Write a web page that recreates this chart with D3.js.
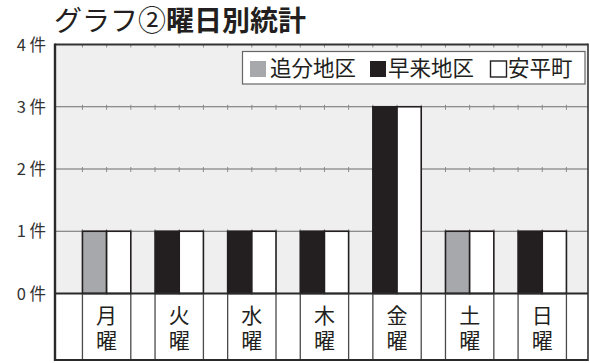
<!DOCTYPE html>
<html>
<head>
<meta charset="utf-8">
<script src="https://cdn.jsdelivr.net/npm/d3@7"></script>
<style>
  html, body { margin: 0; padding: 0; background: #fff; }
  svg { display: block; font-family: "Noto Sans CJK JP", "Noto Sans", sans-serif; }
</style>
</head>
<body>
<svg id="chart" width="590" height="363"></svg>
<script>
// 曜日別の件数
const days = ["月", "火", "水", "木", "金", "土", "日"];
const seriesNames = ["追分地区", "早来地区", "安平町"];
const oiwake = [1, 0, 0, 0, 0, 1, 0];
const hayakita = [0, 1, 1, 1, 3, 0, 1];
const abira = [1, 1, 1, 1, 3, 1, 1];
const yTicks = [0, 1, 2, 3, 4];
const yUnit = "件";

const ink = "#231f20";
const fills = { "追分地区": "#a7a8ab", "早来地区": "#231f20", "安平町": "#ffffff" };

const svg = d3.select("#chart");
const plotL = 55, plotR = 588, plotT = 44.5, plotB = 293.5, tableB = 360;

const x0 = d3.scaleBand().domain(days).range([plotL, plotR])
  .paddingInner(0.334).paddingOuter(0.3375).align(0.56);
const x1 = d3.scaleBand().domain(["地区", "町"]).range([0, x0.bandwidth()]);
const y = d3.scaleLinear().domain([0, 4]).range([plotB, plotT]);

// 表の下段（曜日ラベル欄）
svg.append("rect").attr("x", plotL).attr("y", plotB).attr("width", plotR - plotL)
  .attr("height", tableB - plotB).attr("fill", "#fff");

// グラフ領域
svg.append("rect").attr("x", plotL).attr("y", plotT).attr("width", plotR - plotL)
  .attr("height", plotB - plotT).attr("fill", "#efefef");

// 目盛線
svg.append("g").selectAll("line").data(yTicks.filter(d => d > 0 && d < 4)).join("line")
  .attr("x1", plotL).attr("x2", plotR)
  .attr("y1", d => y(d)).attr("y2", d => y(d))
  .attr("stroke", "#6d6d6d").attr("stroke-width", 1.2);

// 棒の境界位置の小さな刻み
const edges = [];
days.forEach(d => {
  edges.push(x0(d), x0(d) + x1.bandwidth(), x0(d) + x0.bandwidth());
});
const tickG = svg.append("g");
yTicks.filter(d => d > 0).forEach(t => {
  tickG.selectAll(null).data(edges).join("line")
    .attr("x1", e => e).attr("x2", e => e)
    .attr("y1", y(t) - (t === 4 ? 0 : 2)).attr("y2", y(t) + 3)
    .attr("stroke", "#8a8a8a").attr("stroke-width", 1);
});

// 積み上げ（追分地区＋早来地区）と安平町
const stackData = days.map((d, i) => ({ day: d, "追分地区": oiwake[i], "早来地区": hayakita[i] }));
const stacked = d3.stack().keys(["追分地区", "早来地区"])(stackData);

const barG = svg.append("g");
stacked.forEach(layer => {
  barG.selectAll(null).data(layer.filter(p => p[1] - p[0] > 0)).join("rect")
    .attr("x", p => x0(p.data.day) + x1("地区"))
    .attr("y", p => y(p[1]))
    .attr("width", x1.bandwidth())
    .attr("height", p => y(p[0]) - y(p[1]))
    .attr("fill", fills[layer.key])
    .attr("stroke", ink).attr("stroke-width", 1.6);
});
barG.selectAll(null).data(days.map((d, i) => ({ day: d, v: abira[i] })).filter(p => p.v > 0)).join("rect")
  .attr("x", p => x0(p.day) + x1("町"))
  .attr("y", p => y(p.v))
  .attr("width", x1.bandwidth())
  .attr("height", p => y(0) - y(p.v))
  .attr("fill", fills["安平町"])
  .attr("stroke", ink).attr("stroke-width", 1.6);

// 下段の区切り線
const cellEdges = [];
days.forEach(d => cellEdges.push(x0(d), x0(d) + x0.bandwidth()));
svg.append("g").selectAll("line").data(cellEdges).join("line")
  .attr("x1", e => e).attr("x2", e => e)
  .attr("y1", plotB).attr("y2", tableB)
  .attr("stroke", "#4a4a4a").attr("stroke-width", 1.3);

// 曜日ラベル（縦書き）
svg.append("g").attr("fill", ink).attr("font-size", 21)
  .selectAll("text").data(days).join("text")
  .attr("x", d => x0(d) + x0.bandwidth() / 2)
  .attr("y", 330)
  .attr("text-anchor", "middle")
  .style("writing-mode", "vertical-rl")
  .style("letter-spacing", "4px")
  .text(d => d + "曜");

// 枠線
svg.append("line").attr("x1", plotL).attr("x2", plotR).attr("y1", plotB).attr("y2", plotB)
  .attr("stroke", "#2a2a2a").attr("stroke-width", 2.2);
svg.append("line").attr("x1", plotL).attr("x2", plotR).attr("y1", plotT).attr("y2", plotT)
  .attr("stroke", "#333").attr("stroke-width", 2);
svg.append("line").attr("x1", plotL).attr("x2", plotR).attr("y1", tableB).attr("y2", tableB)
  .attr("stroke", "#2a2a2a").attr("stroke-width", 2.2);
svg.append("line").attr("x1", plotL).attr("x2", plotL).attr("y1", plotT - 1).attr("y2", tableB + 1)
  .attr("stroke", "#2a2a2a").attr("stroke-width", 2.4);
svg.append("line").attr("x1", plotR).attr("x2", plotR).attr("y1", plotT - 1).attr("y2", tableB + 1)
  .attr("stroke", "#333").attr("stroke-width", 1.6);

// Y軸ラベル
svg.append("g").attr("fill", "#333").attr("font-size", 16.5)
  .attr("text-anchor", "end")
  .selectAll("text").data(yTicks).join("text")
  .attr("x", 46).attr("y", d => y(d) + 6)
  .text(d => d + " " + yUnit);

// 凡例
const lg = svg.append("g");
lg.append("rect").attr("x", 242.5).attr("y", 51.5).attr("width", 342.5).attr("height", 32.5)
  .attr("fill", "#fff").attr("stroke", "#666").attr("stroke-width", 1.2);
const legendItems = [
  { name: seriesNames[0], sx: 250, tx: 270 },
  { name: seriesNames[1], sx: 370, tx: 388 },
  { name: seriesNames[2], sx: 490.5, tx: 508 }
];
legendItems.forEach(it => {
  lg.append("rect").attr("x", it.sx).attr("y", 61).attr("width", 16).attr("height", 16)
    .attr("fill", fills[it.name])
    .attr("stroke", it.name === "安平町" ? ink : "none").attr("stroke-width", 1.4);
  lg.append("text").attr("x", it.tx).attr("y", 76).attr("font-size", 21.5)
    .attr("fill", ink).text(it.name);
});

// タイトル
const title = svg.append("text").attr("x", 54).attr("y", 31).attr("font-size", 28).attr("fill", ink);
title.append("tspan").attr("font-weight", 400).text("グラフ②");
title.append("tspan").attr("font-weight", 700).text("曜日別統計");
</script>
</body>
</html>
